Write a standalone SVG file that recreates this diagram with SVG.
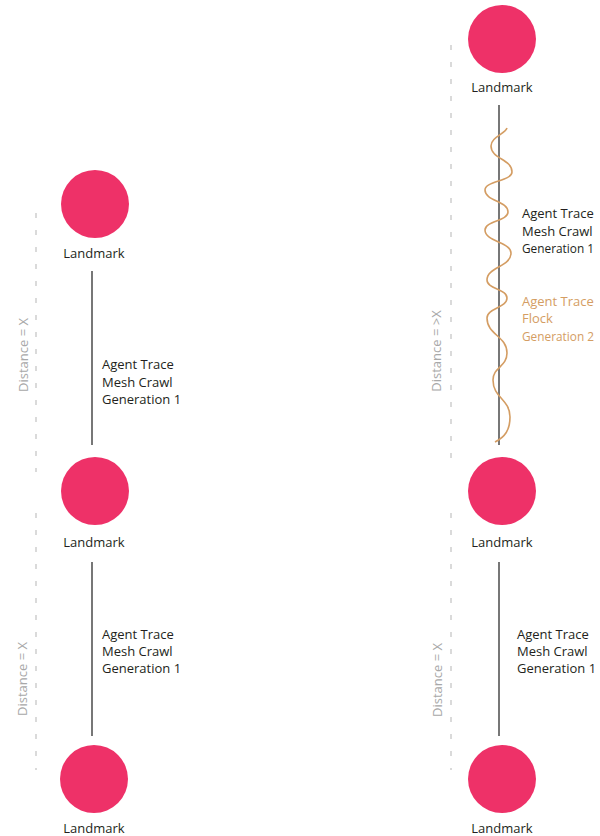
<svg xmlns="http://www.w3.org/2000/svg" width="600" height="836" viewBox="0 0 600 836">
<style>
.lm{fill:#EE3168}
.t{font-family:"Open Sans","Liberation Sans",sans-serif;font-size:13px;fill:#231F20}
.c{text-anchor:middle}
.o{fill:#D49D63}
.d{font-family:"Open Sans","Liberation Sans",sans-serif;font-size:13px;fill:#A8A8A8;text-anchor:middle}
.ln{stroke:#4A4A4A;stroke-width:1.5;fill:none}
.ds{stroke:#B5B5B5;stroke-width:1;stroke-dasharray:5 12;fill:none}
.wv{stroke:#D49D63;stroke-width:1.6;fill:none}
</style>
<rect width="600" height="836" fill="#FFFFFF"/>
<g id="guides">
<line class="ds" x1="36" y1="213" x2="36" y2="472"/>
<line class="ds" x1="36" y1="513" x2="36" y2="770"/>
<line class="ds" x1="451" y1="45" x2="451" y2="462"/>
<line class="ds" x1="451" y1="513" x2="451" y2="770"/>
<text class="d" transform="translate(28,355) rotate(-90)">Distance = X</text>
<text class="d" transform="translate(27,679) rotate(-90)">Distance = X</text>
<text class="d" transform="translate(441,351) rotate(-90)">Distance = &gt;X</text>
<text class="d" transform="translate(442,680) rotate(-90)">Distance = X</text>
</g>
<g id="connectors">
<line class="ln" x1="92" y1="271" x2="92" y2="445"/>
<line class="ln" x1="92" y1="562" x2="92" y2="736"/>
<line class="ln" x1="499" y1="105" x2="499" y2="445"/>
<line class="ln" x1="499" y1="562" x2="499" y2="736"/>
<path class="wv" d="M507 128 C505 134 491 137 491 146 C491 159 512 159 512 172 C512 181 485 181 485 190 C485 201 508 201 508 212 C508 221 485 221 485 230 C485 242 511 242 511 253 C511 267 487 267 487 280 C487 289 507 289 507 298 C507 308 487 308 487 318 C487 335 507 336 507 353 C507 367 493 367 493 380 C493 398 510 399 510 417 C510 430 505 437 495 442"/>
<g class="t">
<text x="102" y="369">Agent Trace</text>
<text x="102" y="387">Mesh Crawl</text>
<text x="102" y="404">Generation 1</text>
<text x="102" y="639">Agent Trace</text>
<text x="102" y="656">Mesh Crawl</text>
<text x="102" y="673">Generation 1</text>
<text x="522" y="218">Agent Trace</text>
<text x="522" y="236">Mesh Crawl</text>
<text x="522" y="253" textLength="72" lengthAdjust="spacingAndGlyphs">Generation 1</text>
<text class="o" x="522" y="306">Agent Trace</text>
<text class="o" x="522" y="323">Flock</text>
<text class="o" x="522" y="341" textLength="72" lengthAdjust="spacingAndGlyphs">Generation 2</text>
<text x="517" y="639">Agent Trace</text>
<text x="517" y="656">Mesh Crawl</text>
<text x="517" y="673">Generation 1</text>
</g>
</g>
<g id="landmark-l1"><circle class="lm" cx="95" cy="204" r="34"/><text class="t c" x="94" y="258">Landmark</text></g>
<g id="landmark-l2"><circle class="lm" cx="95" cy="491" r="34"/><text class="t c" x="94" y="547">Landmark</text></g>
<g id="landmark-l3"><circle class="lm" cx="94" cy="779" r="34"/><text class="t c" x="94" y="833">Landmark</text></g>
<g id="landmark-r1"><circle class="lm" cx="502" cy="39" r="34"/><text class="t c" x="502" y="92">Landmark</text></g>
<g id="landmark-r2"><circle class="lm" cx="502" cy="491" r="34"/><text class="t c" x="502" y="547">Landmark</text></g>
<g id="landmark-r3"><circle class="lm" cx="502" cy="779" r="34"/><text class="t c" x="502" y="833">Landmark</text></g>
</svg>
